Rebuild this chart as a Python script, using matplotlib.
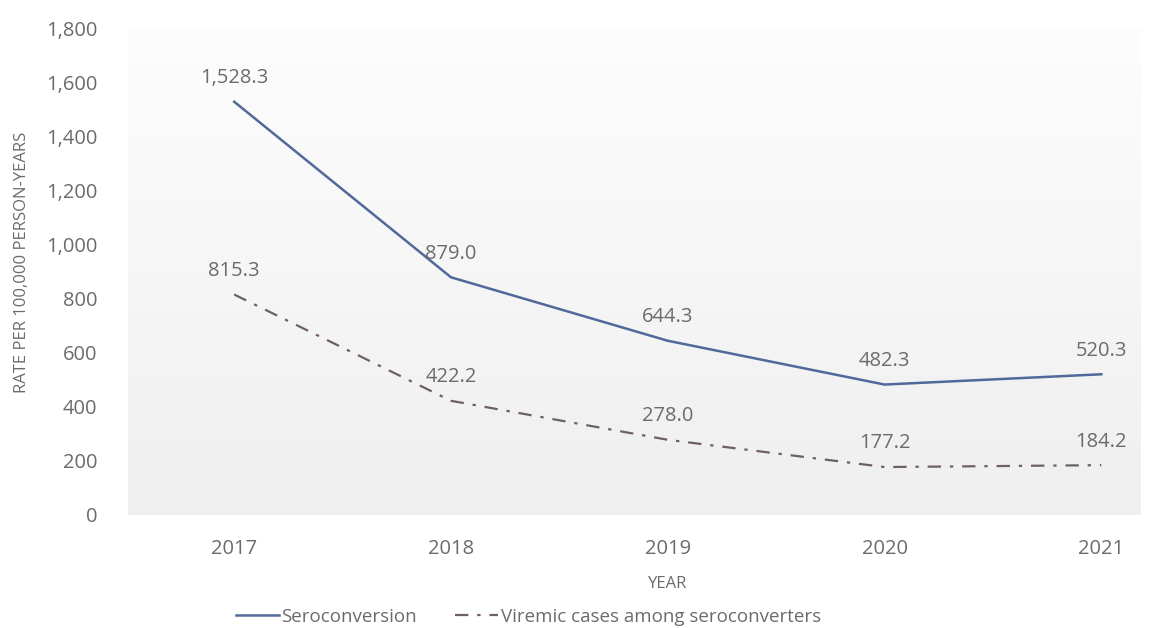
import numpy as np
import matplotlib
matplotlib.use("Agg")
import matplotlib.pyplot as plt

# chart data
years = ["2017", "2018", "2019", "2020", "2021"]
seroconversion = [1528.3, 879.0, 644.3, 482.3, 520.3]
viremic = [815.3, 422.2, 278.0, 177.2, 184.2]
y_ticks = [0, 200, 400, 600, 800, 1000, 1200, 1400, 1600, 1800]

plt.rcParams['font.family'] = ['Open Sans', 'DejaVu Sans']
text_color = "#6b6b6b"
fs = 14.5

fig = plt.figure(figsize=(11.53, 6.28), dpi=100)
ax = fig.add_axes([0.111, 0.18, 0.878, 0.775])

x = np.arange(len(years))
xmin, xmax = -0.49, 4.18

# light gray vertical gradient background
grad = np.linspace(0, 1, 256).reshape(-1, 1)
ax.imshow(grad, extent=[xmin, xmax, 0, 1800], aspect="auto",
          cmap=matplotlib.colors.LinearSegmentedColormap.from_list("bg", ["#efefef", "#fdfdfd"]),
          origin="lower", zorder=0)

ax.plot(x, seroconversion, color="#50699a", lw=1.8, label="Seroconversion", zorder=3)
ax.plot(x, viremic, color="#6e6062", lw=1.6, linestyle=(0, (6, 4, 1.5, 4)),
        label="Viremic cases among seroconverters", zorder=3)

for xi, v in zip(x, seroconversion):
    ax.annotate(f"{v:,.1f}", (xi, v), xytext=(0, 17), textcoords="offset points",
                ha="center", va="center", fontsize=fs, color=text_color)
for xi, v in zip(x, viremic):
    ax.annotate(f"{v:,.1f}", (xi, v), xytext=(0, 17), textcoords="offset points",
                ha="center", va="center", fontsize=fs, color=text_color)

ax.set_xlim(xmin, xmax)
ax.set_ylim(0, 1800)
ax.set_xticks(x)
ax.set_xticklabels(years)
ax.set_yticks(y_ticks)
ax.set_yticklabels([f"{t:,}" for t in y_ticks])
ax.tick_params(length=0, labelsize=fs, colors=text_color)
ax.tick_params(axis="y", pad=22)
ax.tick_params(axis="x", pad=17)
for s in ax.spines.values():
    s.set_visible(False)

ax.set_xlabel("YEAR", fontsize=12, color=text_color)
ax.xaxis.set_label_coords((2 - xmin) / (xmax - xmin), -0.125)
ax.set_ylabel("RATE PER 100,000 PERSON-YEARS", fontsize=12, color=text_color)
ax.yaxis.set_label_coords(-0.097, 0.52)

leg = fig.legend(loc="center", ncol=2, frameon=False, fontsize=13.5,
                 bbox_to_anchor=(0.458, 0.018), handlelength=2.3, columnspacing=2.0,
                 handletextpad=0.15)
for t in leg.get_texts():
    t.set_color(text_color)

fig.savefig("out.png", dpi=100, facecolor="white")
